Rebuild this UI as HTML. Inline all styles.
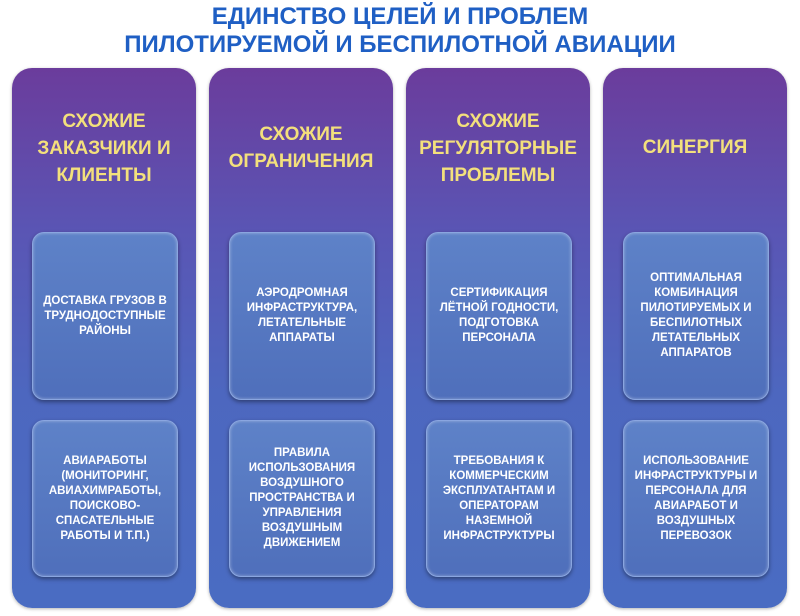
<!DOCTYPE html><html><head><meta charset="utf-8"><style>
body{margin:0;width:800px;height:616px;background:#fff;position:relative;overflow:hidden;font-family:"Liberation Sans","Noto Sans CJK SC",sans-serif}
.t{position:absolute;left:0;width:800px;top:3px;text-align:center;color:#1f5fc4;font-weight:bold;font-size:24px;line-height:28px}
.col{position:absolute;top:68px;width:184px;height:540px;border-radius:20px;background:linear-gradient(#6b3c9c 0%,#5a55b4 30%,#4d67bf 60%,#4a6cc2 100%);box-shadow:0 1px 3px rgba(0,0,0,.3)}
.h{position:absolute;left:0;width:184px;text-align:center;color:#f3e07c;font-size:19px;font-weight:bold;line-height:27px}
.b{position:absolute;left:20px;width:144px;border-radius:12px;background:linear-gradient(#5e82c8,#4f6fbb);border:1px solid #8aa6e0;box-shadow:inset 0 0 3px rgba(255,255,255,.4),0 2px 4px rgba(0,0,0,.4);color:#fff;font-size:11.5px;font-weight:bold;line-height:15px;display:flex;align-items:center;justify-content:center;text-align:center}
</style></head><body>
<div class="t">ЕДИНСТВО ЦЕЛЕЙ И ПРОБЛЕМ<br>ПИЛОТИРУЕМОЙ И БЕСПИЛОТНОЙ АВИАЦИИ</div>
<div class="col" style="left:12px"><div class="h" style="top:40px">СХОЖИЕ<br>ЗАКАЗЧИКИ И<br>КЛИЕНТЫ</div>
<div class="b" style="top:164px;height:166px">ДОСТАВКА ГРУЗОВ В<br>ТРУДНОДОСТУПНЫЕ<br>РАЙОНЫ</div>
<div class="b" style="top:352px;height:155px">АВИАРАБОТЫ<br>(МОНИТОРИНГ,<br>АВИАХИМРАБОТЫ,<br>ПОИСКОВО-<br>СПАСАТЕЛЬНЫЕ<br>РАБОТЫ И Т.П.)</div></div>
<div class="col" style="left:209px"><div class="h" style="top:53px">СХОЖИЕ<br>ОГРАНИЧЕНИЯ</div>
<div class="b" style="top:164px;height:166px">АЭРОДРОМНАЯ<br>ИНФРАСТРУКТУРА,<br>ЛЕТАТЕЛЬНЫЕ<br>АППАРАТЫ</div>
<div class="b" style="top:352px;height:155px">ПРАВИЛА<br>ИСПОЛЬЗОВАНИЯ<br>ВОЗДУШНОГО<br>ПРОСТРАНСТВА И<br>УПРАВЛЕНИЯ<br>ВОЗДУШНЫМ<br>ДВИЖЕНИЕМ</div></div>
<div class="col" style="left:406px"><div class="h" style="top:40px">СХОЖИЕ<br>РЕГУЛЯТОРНЫЕ<br>ПРОБЛЕМЫ</div>
<div class="b" style="top:164px;height:166px">СЕРТИФИКАЦИЯ<br>ЛЁТНОЙ ГОДНОСТИ,<br>ПОДГОТОВКА<br>ПЕРСОНАЛА</div>
<div class="b" style="top:352px;height:155px">ТРЕБОВАНИЯ К<br>КОММЕРЧЕСКИМ<br>ЭКСПЛУАТАНТАМ И<br>ОПЕРАТОРАМ<br>НАЗЕМНОЙ<br>ИНФРАСТРУКТУРЫ</div></div>
<div class="col" style="left:603px"><div class="h" style="top:66px">СИНЕРГИЯ</div>
<div class="b" style="top:164px;height:166px">ОПТИМАЛЬНАЯ<br>КОМБИНАЦИЯ<br>ПИЛОТИРУЕМЫХ И<br>БЕСПИЛОТНЫХ<br>ЛЕТАТЕЛЬНЫХ<br>АППАРАТОВ</div>
<div class="b" style="top:352px;height:155px">ИСПОЛЬЗОВАНИЕ<br>ИНФРАСТРУКТУРЫ И<br>ПЕРСОНАЛА ДЛЯ<br>АВИАРАБОТ И<br>ВОЗДУШНЫХ<br>ПЕРЕВОЗОК</div></div>
</body></html>
